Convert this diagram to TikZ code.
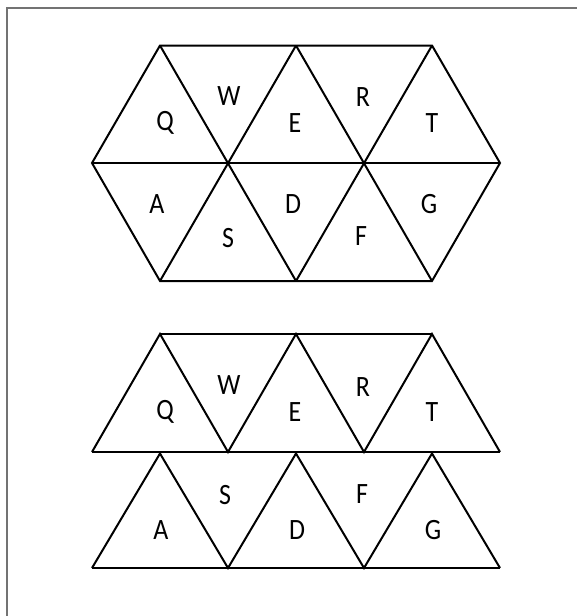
\documentclass[tikz,border=0pt]{standalone}
\usepackage{fontspec}
\usepackage{graphicx}
\setmainfont{Carlito}
\newcommand{\ltr}[1]{\scalebox{0.88}[1]{#1}}
\begin{document}
\begin{tikzpicture}[x=1pt,y=-1pt,
  edge/.style={draw=black,line width=2pt,line join=miter},
  frame/.style={draw=black!55,line width=1.5pt},
  lab/.style={font=\fontsize{29.5}{29.5}\selectfont,inner sep=0pt,anchor=center}]
\useasboundingbox (0,0) rectangle (577,616);
\fill[white] (0,0) rectangle (577,616);
\draw[frame] (578,8) -- (7,8) -- (7,617);
% top hexagon
\draw[edge] (160,45.5) -- (432,45.5) -- (500,163) -- (432,281) -- (160,281) -- (92,163) -- cycle;
\draw[edge] (92,163) -- (500,163);
\draw[edge] (160,45.5) -- (296,281);
\draw[edge] (296,45.5) -- (160,281);
\draw[edge] (296,45.5) -- (432,281);
\draw[edge] (432,45.5) -- (296,281);
\node[lab] (q1) at (165,123) {\ltr{Q}};
\node[lab] (w1) at (229,96) {\ltr{W}};
\node[lab] (e1) at (295,123) {\ltr{E}};
\node[lab] (r1) at (363,97) {\ltr{R}};
\node[lab] (t1) at (432,123) {\ltr{T}};
\node[lab] (a1) at (157,204) {\ltr{A}};
\node[lab] (s1) at (228,238) {\ltr{S}};
\node[lab] (d1) at (293,204) {\ltr{D}};
\node[lab] (f1) at (361,236) {\ltr{F}};
\node[lab] (g1) at (429,204) {\ltr{G}};
% bottom strips
\draw[edge] (160,334) -- (432,334);
\draw[edge] (92,452) -- (500,452);
\draw[edge] (92,452) -- (160,334) -- (228,452) -- (296,334) -- (364,452) -- (432,334) -- (500,452);
\draw[edge] (92,568) -- (500,568);
\draw[edge] (92,568) -- (160,453.5) -- (228,568) -- (296,453.5) -- (364,568) -- (432,453.5) -- (500,568);
\node[lab] (q2) at (165,412) {\ltr{Q}};
\node[lab] (w2) at (229,385) {\ltr{W}};
\node[lab] (e2) at (295,412) {\ltr{E}};
\node[lab] (r2) at (363,387) {\ltr{R}};
\node[lab] (t2) at (432,412) {\ltr{T}};
\node[lab] (a2) at (161,530) {\ltr{A}};
\node[lab] (s2) at (225,495) {\ltr{S}};
\node[lab] (d2) at (297,530) {\ltr{D}};
\node[lab] (f2) at (362,494) {\ltr{F}};
\node[lab] (g2) at (433,530) {\ltr{G}};
\end{tikzpicture}
\end{document}
